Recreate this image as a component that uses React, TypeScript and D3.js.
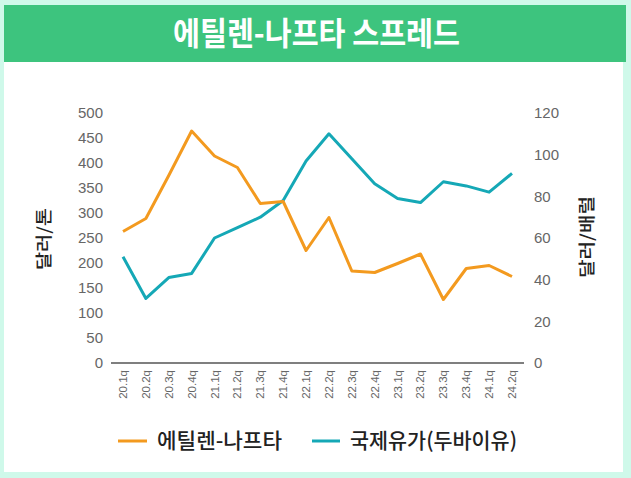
import React from "react";
import * as d3 from "d3";

const categories = ["20.1q","20.2q","20.3q","20.4q","21.1q","21.2q","21.3q","21.4q","22.1q","22.2q","22.3q","22.4q","23.1q","23.2q","23.3q","23.4q","24.1q","24.2q"];
const spread = [263, 289, 375, 464, 414, 391, 319, 323, 225, 291, 184, 181, 199, 218, 127, 189, 195, 173];
const oil = [51, 31, 41, 43, 60, 65, 70, 78, 97, 110, 98, 86, 79, 77, 87, 85, 82, 91];
const leftTicks = [0, 50, 100, 150, 200, 250, 300, 350, 400, 450, 500];
const rightTicks = [0, 20, 40, 60, 80, 100, 120];
const title = "에틸렌-나프타 스프레드";
const seriesNames = ["에틸렌-나프타", "국제유가(두바이유)"];
const axisTitles = ["달러/톤", "달러/배럴"];

const W = 631, H = 478;
const ORANGE = "#F39A1F";
const TEAL = "#15A8B6";
const FONT = "'Noto Sans CJK KR', 'Noto Sans', sans-serif";
const NUMFONT = "'Liberation Sans', Arial, sans-serif";

export default function App() {
  const x = d3.scalePoint<string>().domain(categories).range([123, 512]);
  const yL = d3.scaleLinear().domain([0, 500]).range([363, 113]);
  const yR = d3.scaleLinear().domain([0, 120]).range([363, 113]);

  const lineL = d3.line<number>().x((_, i) => x(categories[i])!).y((d) => yL(d));
  const lineR = d3.line<number>().x((_, i) => x(categories[i])!).y((d) => yR(d));

  return (
    <div style={{ position: "absolute", left: 0, top: 0 }}>
      <svg width={W} height={H} viewBox={`0 0 ${W} ${H}`} style={{ display: "block" }}>
        <rect x={0} y={0} width={W} height={H} fill="#CFF9EA" />
        <rect x={4} y={5} width={622} height={57} fill="#3DC47E" />
        <rect x={4} y={62} width={619} height={410} fill="#FFFFFF" />
        <text
          x={173}
          y={44.5}
          fill="#FFFFFF"
          fontFamily={FONT}
          fontWeight={700}
          fontSize={32}
          textLength={287}
          lengthAdjust="spacingAndGlyphs"
        >
          {title}
        </text>

        {leftTicks.map((t) => (
          <text key={"l" + t} x={103} y={yL(t)} dy="0.36em" textAnchor="end" fontFamily={NUMFONT} fontSize={15} fill="#666">
            {t}
          </text>
        ))}
        {rightTicks.map((t) => (
          <text key={"r" + t} x={534} y={yR(t)} dy="0.36em" textAnchor="start" fontFamily={NUMFONT} fontSize={15} fill="#666">
            {t}
          </text>
        ))}

        <line x1={111} x2={524} y1={363} y2={363} stroke="#555" strokeWidth={1.5} />

        {categories.map((c) => (
          <text
            key={c}
            transform={`translate(${x(c)! + 4},370) rotate(-90)`}
            textAnchor="end"
            fontFamily={NUMFONT}
            fontSize={11.5}
            fill="#666"
          >
            {c}
          </text>
        ))}

        <text
          transform={`translate(50,239) rotate(-90)`}
          textAnchor="middle"
          fontFamily={FONT}
          fontSize={17}
          fontWeight={500}
          fill="#222"
          textLength={62}
          lengthAdjust="spacingAndGlyphs"
        >
          {axisTitles[0]}
        </text>
        <text
          transform={`translate(593,237) rotate(-90)`}
          textAnchor="middle"
          fontFamily={FONT}
          fontSize={17}
          fontWeight={500}
          fill="#222"
          textLength={82}
          lengthAdjust="spacingAndGlyphs"
        >
          {axisTitles[1]}
        </text>

        <path d={lineR(oil)!} fill="none" stroke={TEAL} strokeWidth={3} strokeLinejoin="round" />
        <path d={lineL(spread)!} fill="none" stroke={ORANGE} strokeWidth={3} strokeLinejoin="round" />

        <line x1={118} x2={147} y1={441} y2={441} stroke={ORANGE} strokeWidth={3} />
        <text x={157} y={448} fontFamily={FONT} fontSize={21} fontWeight={500} fill="#222" textLength={125} lengthAdjust="spacingAndGlyphs">
          {seriesNames[0]}
        </text>
        <line x1={312} x2={340} y1={441} y2={441} stroke={TEAL} strokeWidth={3} />
        <text x={350} y={448} fontFamily={FONT} fontSize={21} fontWeight={500} fill="#222" textLength={167} lengthAdjust="spacingAndGlyphs">
          {seriesNames[1]}
        </text>
      </svg>
    </div>
  );
}
